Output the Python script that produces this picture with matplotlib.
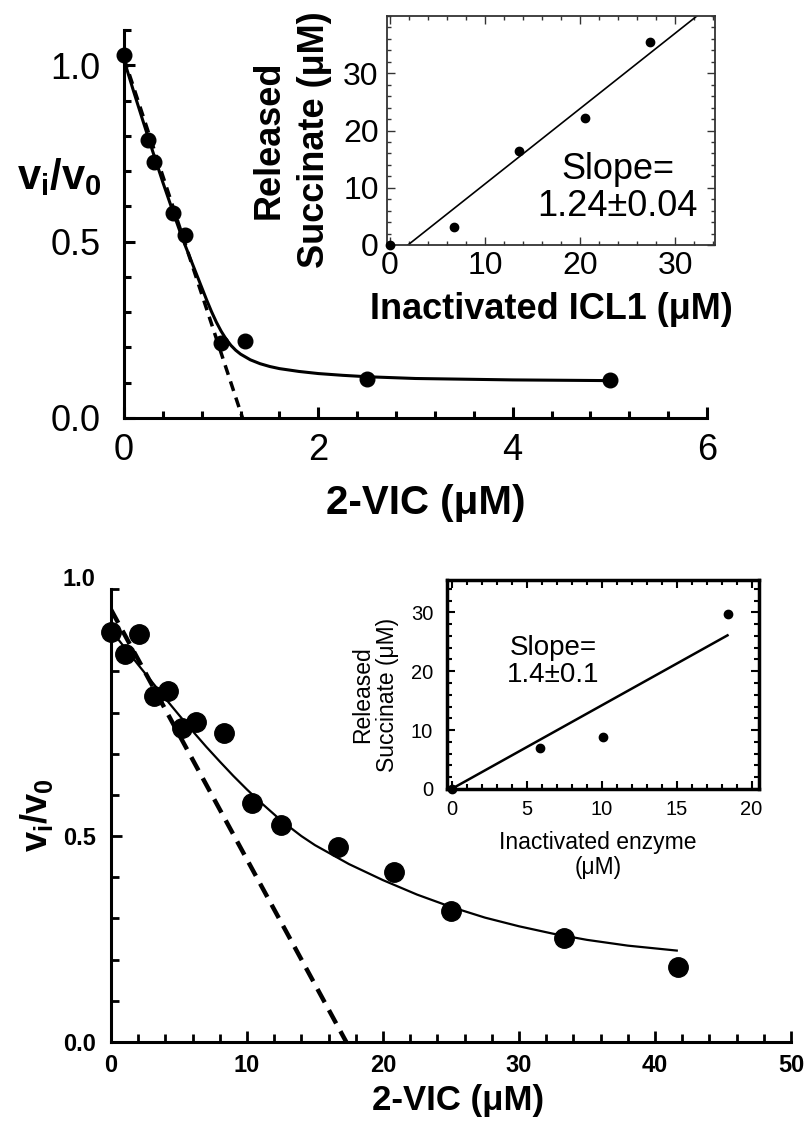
import matplotlib
matplotlib.use('Agg')
import matplotlib.pyplot as plt
from matplotlib.ticker import MultipleLocator, FixedLocator

plt.rcParams['font.family'] = ['Liberation Sans', 'DejaVu Sans']
plt.rcParams['mathtext.fontset'] = 'custom'
plt.rcParams['mathtext.rm'] = 'Liberation Sans'
plt.rcParams['mathtext.bf'] = 'Liberation Sans:bold'
plt.rcParams['mathtext.it'] = 'Liberation Sans:italic'

# --- top panel: ICL1 titration ---
top_conc = [0, 0.25, 0.3125, 0.5, 0.625, 1.0, 1.25, 2.5, 5.0]
top_ratio = [1.028, 0.788, 0.726, 0.582, 0.518, 0.213, 0.219, 0.111, 0.107]
top_fit_x = [0, 0.1, 0.2, 0.3, 0.4, 0.5, 0.6, 0.7, 0.8, 0.85, 0.9, 0.95,
             1.0, 1.05, 1.1, 1.15, 1.2, 1.3, 1.4, 1.5, 1.6, 1.8, 2.0, 2.25,
             2.5, 3.0, 3.5, 4.0, 5.0]
top_fit_y = [1.015, 0.925, 0.838, 0.752, 0.668, 0.588, 0.51, 0.44, 0.37,
             0.335, 0.302, 0.272, 0.246, 0.224, 0.206, 0.192, 0.181, 0.165,
             0.154, 0.146, 0.140, 0.132, 0.126, 0.121, 0.117, 0.112, 0.110,
             0.108, 0.106]
top_dash_x = [0, 1.22]
top_dash_y = [1.02, 0]

top_ins_x = [0, 6.7, 13.6, 20.5, 27.4]
top_ins_y = [0, 3.2, 16.5, 22.2, 35.4]
top_ins_line_x = [1.9, 32.3]
top_ins_line_y = [0, 40]

# --- bottom panel: second enzyme ---
bot_conc = [0, 1.04, 2.08, 3.125, 4.17, 5.2, 6.25, 8.33, 10.4, 12.5, 16.7,
            20.8, 25.0, 33.3, 41.7]
bot_ratio = [0.995, 0.943, 0.99, 0.84, 0.852, 0.762, 0.776, 0.75, 0.58,
             0.528, 0.473, 0.414, 0.319, 0.253, 0.182]
bot_fit_x = [0, 1, 2, 3, 4, 5, 6, 7, 8, 9, 10, 11, 12.5, 14, 15, 17.5, 20,
             22.5, 25, 27.5, 30, 32.5, 35, 38, 41.6]
bot_fit_y = [1.0, 0.958, 0.916, 0.875, 0.834, 0.794, 0.755, 0.717, 0.681,
             0.646, 0.613, 0.582, 0.538, 0.5, 0.478, 0.432, 0.393, 0.358,
             0.328, 0.302, 0.281, 0.263, 0.248, 0.234, 0.222]
bot_dash_x = [0, 17.3]
bot_dash_y = [1.05, 0]

bot_ins_x = [0, 5.9, 10.1, 18.4]
bot_ins_y = [0, 6.9, 8.9, 29.7]
bot_ins_line_x = [0, 18.4]
bot_ins_line_y = [0, 26.1]

W, H = 809, 1127
fig = plt.figure(figsize=(W / 100, H / 100), dpi=100)


def frac(left, top, right, bottom):
    return [left / W, 1 - bottom / H, (right - left) / W, (bottom - top) / H]


# ---------- top main ----------
ax1 = fig.add_axes(frac(124, 30, 707, 418))
ax1.plot(top_fit_x, top_fit_y, color='black', lw=2.2, zorder=2,
         solid_joinstyle='round')
ax1.plot(top_dash_x, top_dash_y, color='black', lw=2.5,
         dashes=(2.9, 2.0), zorder=2)
ax1.plot(top_conc, top_ratio, 'o', color='black', ms=10.5, zorder=3,
         clip_on=False)
ax1.set_xlim(0, 6)
ax1.set_ylim(0, 1.1)
ax1.spines['top'].set_visible(False)
ax1.spines['right'].set_visible(False)
for s in ['left', 'bottom']:
    ax1.spines[s].set_linewidth(2.2)
ax1.set_xticks([0, 2, 4, 6], ['0', '2', '4', '6'])
ax1.set_yticks([0, 0.5, 1.0], ['0.0', '0.5', '1.0'])
ax1.xaxis.set_minor_locator(MultipleLocator(0.4))
ax1.yaxis.set_minor_locator(MultipleLocator(0.1))
ax1.tick_params(which='both', direction='in', width=2.2)
ax1.tick_params(which='major', length=8)
ax1.tick_params(which='minor', length=5)
ax1.tick_params(axis='y', labelsize=26, pad=17)
ax1.tick_params(axis='x', labelsize=26, pad=11)
ax1.set_xlabel('2-VIC (μM)', fontsize=29, fontweight='bold')
ax1.xaxis.set_label_coords(0.518, -0.17)
ax1.text(-0.11, 0.62, r'$\mathbf{v_i/v_0}$', transform=ax1.transAxes,
         fontsize=30, ha='center', va='center')

# ---------- top inset ----------
ax2 = fig.add_axes(frac(387, 16, 715, 245))
ax2.plot(top_ins_line_x, top_ins_line_y, color='black', lw=1.2)
ax2.plot(top_ins_x, top_ins_y, 'o', color='black', ms=6, clip_on=False,
         zorder=3)
ax2.set_xlim(-0.3, 34.2)
ax2.set_ylim(0, 40)
for s in ax2.spines.values():
    s.set_linewidth(1.3)
    s.set_color('#333333')
ax2.set_xticks([0, 10, 20, 30])
ax2.set_yticks([0, 10, 20, 30])
ax2.xaxis.set_minor_locator(MultipleLocator(2))
ax2.yaxis.set_minor_locator(MultipleLocator(2))
ax2.tick_params(which='both', direction='in', top=True, right=True,
                width=1.0, color='#333333')
ax2.tick_params(which='major', length=6)
ax2.tick_params(which='minor', length=3)
ax2.tick_params(axis='y', labelsize=23, pad=6)
ax2.tick_params(axis='x', labelsize=23, pad=4)
ax2.text(-0.29, 0.458, 'Released\nSuccinate (μM)', transform=ax2.transAxes,
         rotation=90, ha='center', va='center', fontsize=26,
         fontweight='bold', linespacing=1.4)
ax2.text(0.5, -0.283, 'Inactivated ICL1 (μM)', transform=ax2.transAxes,
         ha='center', va='center', fontsize=26, fontweight='bold')
ax2.text(0.704, 0.249, 'Slope=\n1.24±0.04', transform=ax2.transAxes,
         ha='center', va='center', fontsize=26, linespacing=1.05)

# ---------- bottom main ----------
ax3 = fig.add_axes(frac(111, 589, 791, 1042))
ax3.plot(bot_fit_x, bot_fit_y, color='black', lw=1.6, zorder=2,
         solid_joinstyle='round')
ax3.plot(bot_dash_x, bot_dash_y, color='black', lw=3.2,
         dashes=(3.4, 2.0), zorder=2)
ax3.plot(bot_conc, bot_ratio, 'o', color='black', ms=14, zorder=3,
         clip_on=False)
ax3.set_xlim(0, 50)
ax3.set_ylim(0, 1.1)
ax3.spines['top'].set_visible(False)
ax3.spines['right'].set_visible(False)
for s in ['left', 'bottom']:
    ax3.spines[s].set_linewidth(2.2)
ax3.set_xticks([0, 10, 20, 30, 40, 50],
               ['0', '10', '20', '30', '40', '50'], fontweight='bold')
ax3.set_yticks([0, 0.5], ['0.0', '0.5'], fontweight='bold')
ax3.xaxis.set_minor_locator(MultipleLocator(2))
ax3.yaxis.set_minor_locator(FixedLocator([0.1, 0.2, 0.3, 0.4, 0.6, 0.7,
                                          0.8, 0.9, 1.0, 1.1]))
ax3.tick_params(which='both', direction='in', width=2.0)
ax3.tick_params(which='major', length=8)
ax3.tick_params(which='minor', length=6)
ax3.tick_params(axis='y', labelsize=17, pad=11)
ax3.tick_params(axis='x', labelsize=17, pad=9)
# the "1.0" label sits above the axis top in the original figure
ax3.text(-0.0235, 1.02, '1.0', transform=ax3.transAxes, ha='right',
         va='center', fontsize=17, fontweight='bold')
ax3.set_xlabel('2-VIC (μM)', fontsize=25, fontweight='bold')
ax3.xaxis.set_label_coords(0.51, -0.093)
ax3.text(-0.109, 0.5, r'$\mathbf{v_i/v_0}$', transform=ax3.transAxes,
         fontsize=26, rotation=90, ha='center', va='center')

# ---------- bottom inset ----------
ax4 = fig.add_axes(frac(447, 580, 759, 789))
ax4.plot(bot_ins_line_x, bot_ins_line_y, color='black', lw=1.8)
ax4.plot(bot_ins_x, bot_ins_y, 'o', color='black', ms=6, clip_on=False,
         zorder=3)
ax4.set_xlim(-0.3, 20.5)
ax4.set_ylim(0, 35.5)
for s in ax4.spines.values():
    s.set_linewidth(2.5)
ax4.set_xticks([0, 5, 10, 15, 20])
ax4.set_yticks([0, 10, 20, 30])
ax4.xaxis.set_minor_locator(MultipleLocator(1))
ax4.yaxis.set_minor_locator(MultipleLocator(2))
ax4.tick_params(which='both', direction='in', top=True, right=True,
                width=1.5)
ax4.tick_params(which='major', length=6)
ax4.tick_params(which='minor', length=3.5)
ax4.tick_params(axis='y', labelsize=14.5, pad=10)
ax4.tick_params(axis='x', labelsize=14.5, pad=8)
ax4.text(-0.231, 0.45, 'Released\nSuccinate (μM)', transform=ax4.transAxes,
         rotation=90, ha='center', va='center', fontsize=16.5,
         linespacing=1.1)
ax4.text(0.484, -0.316, 'Inactivated enzyme\n(μM)', transform=ax4.transAxes,
         ha='center', va='center', fontsize=16.5, linespacing=1.1)
ax4.text(0.34, 0.61, 'Slope=\n1.4±0.1', transform=ax4.transAxes,
         ha='center', va='center', fontsize=20, linespacing=1.05)

fig.savefig('out.png', dpi=100)
